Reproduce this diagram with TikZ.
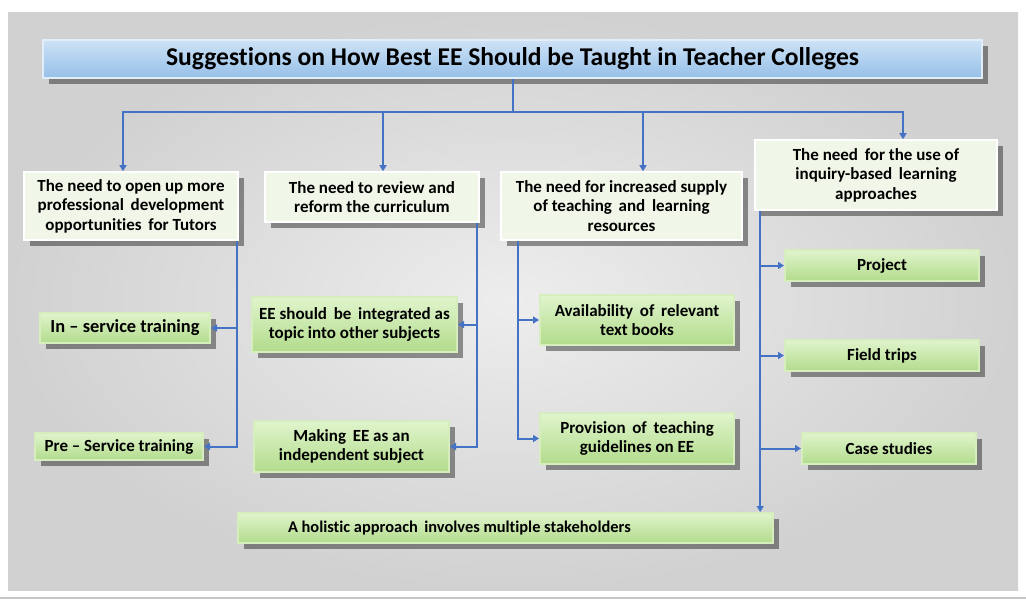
\documentclass[tikz,border=0pt]{standalone}
\usepackage{fontspec}
\setmainfont{Carlito}[Ligatures=NoCommon]
\usetikzlibrary{arrows.meta,positioning,shadows}
\definecolor{linkblue}{RGB}{68,114,196}
\definecolor{ttltop}{RGB}{205,226,246}
\definecolor{ttlbot}{RGB}{150,192,232}
\definecolor{needfill}{RGB}{240,247,232}
\definecolor{leaftop}{RGB}{224,244,204}
\definecolor{leafbot}{RGB}{178,220,140}
\definecolor{leafedge}{RGB}{214,238,190}

\begin{document}
\begin{tikzpicture}[x=0.5pt, y=-0.5pt,
      font=\bfseries\fontsize{8.5}{9.7}\selectfont,
      shd/.style={drop shadow={shadow xshift=3pt, shadow yshift=-3pt, opacity=0.4, fill=black}},
      ttl/.style={draw=ttltop!60!white, line width=1pt, top color=ttltop, bottom color=ttlbot,
        minimum width=469.5pt, minimum height=19pt, inner sep=0pt, shd,
        font=\bfseries\fontsize{12.8}{14}\selectfont},
      need/.style={fill=needfill, draw=white, line width=0.8pt, align=center, inner sep=0pt, shd},
      leaf/.style={top color=leaftop, bottom color=leafbot, draw=leafedge, line width=1pt,
        align=center, inner sep=0pt, shd},
      arr/.style={-{Triangle[length=3pt,width=3.5pt]}, linkblue, line width=1pt},
      wire/.style={linkblue, line width=1pt},
    ]
    \useasboundingbox (0,0) rectangle (1026,601);
    % panel
    \fill[white] (0,0) rectangle (1026,601);
    \shade[inner color=gray!14, outer color=gray!36] (8,12) rectangle (1018,590);
    \draw[gray!45, line width=0.6pt] (0,598) -- (1026,598);
    % heading
    \node[ttl] (title) at (512.5,59) {Suggestions on How Best EE Should be Taught in Teacher Colleges};
    % four needs
    \node[need, minimum width=107pt, minimum height=34pt] (open) at (131,206)
      {The need to open up more\\professional\ \,development\\opportunities\ \,for Tutors};
    \node[need, minimum width=107pt, minimum height=25pt] (review) at (372,197)
      {The need to review and\\reform the curriculum};
    \node[need, minimum width=120.5pt, minimum height=34pt] (supply) at (621.5,206)
      {The need for increased supply\\of teaching\ \,and\ \,learning\\resources};
    \node[need, minimum width=121pt, minimum height=35pt] (inquiry) at (876,175)
      {The need\ \,for the use of\\inquiry-based\ \,learning\\approaches};
    % tutors branch
    \node[leaf, minimum width=85pt, minimum height=15pt, font=\bfseries\fontsize{9.2}{11}\selectfont]
      (insrv) at (125,328) {In -- service training};
    \node[leaf, minimum width=84pt, minimum height=13.5pt] (presrv) at (119,446.5) {Pre -- Service training};
    % curriculum branch
    \node[leaf, minimum width=102.5pt, minimum height=27.5pt] (integ) at (354.5,324.5)
      {EE should\ \,be\ \,integrated as\\topic into other subjects};
    \node[leaf, minimum width=97.5pt, minimum height=25.5pt] (indep) at (351.5,446.5)
      {Making\ \,EE as an\\independent subject};
    % resources branch
    \node[leaf, minimum width=97pt, minimum height=25pt] (books) at (637,320)
      {Availability\ \,of\ \,relevant\\text books};
    \node[leaf, minimum width=97pt, minimum height=25.5pt] (guide) at (637,438.5)
      {Provision\ \,of\ \,teaching\\guidelines on EE};
    % inquiry branch
    \node[leaf, minimum width=97pt, minimum height=15.5pt, font=\bfseries\fontsize{8.5}{10}\selectfont]
      (proj) at (882,265.5) {Project};
    \node[leaf, minimum width=97pt, minimum height=15.5pt, font=\bfseries\fontsize{8.5}{10}\selectfont]
      (field) at (882,355.5) {Field trips};
    \node[leaf, minimum width=87pt, minimum height=15.5pt, font=\bfseries\fontsize{8.5}{10}\selectfont]
      (cases) at (889,448.5) {Case studies};
    \node[leaf, align=flush left, text width=217.5pt, inner xsep=25pt, inner ysep=0pt, minimum height=15pt,
      font=\bfseries\fontsize{8.2}{10}\selectfont]
      (holi) at (505.5,528) {A holistic approach\ \,involves multiple stakeholders};
    % connectors
    \coordinate (hub) at (513,112);
    \draw[wire] (title.south) -- (title.south |- hub);
    \draw[arr] (hub) -| ([xshift=-4pt]open.north);
    \draw[arr] (hub) -| ([xshift=5.5pt]review.north);
    \draw[arr] (hub) -| ([xshift=10.75pt]supply.north);
    \draw[arr] (hub) -| ([xshift=13.5pt]inquiry.north);
    \coordinate (v1) at ([xshift=-1pt]open.south east);
    \draw[arr] (v1) |- (insrv.east);
    \draw[arr] (v1) |- (presrv.east);
    \coordinate (v2) at ([xshift=-1.5pt]review.south east);
    \draw[arr] (v2) |- (integ.east);
    \draw[arr] (v2) |- (indep.east);
    \coordinate (v3) at ([xshift=9pt]supply.south west);
    \draw[arr] (v3) |- (books.west);
    \draw[arr] (v3) |- (guide.west);
    \coordinate (v4) at ([xshift=3pt]inquiry.south west);
    \draw[arr] (v4) |- (proj.west);
    \draw[arr] (v4) |- (field.west);
    \draw[arr] (v4) |- (cases.west);
    \draw[arr] (v4) -- (v4 |- holi.north);
  \end{tikzpicture}
\end{document}
